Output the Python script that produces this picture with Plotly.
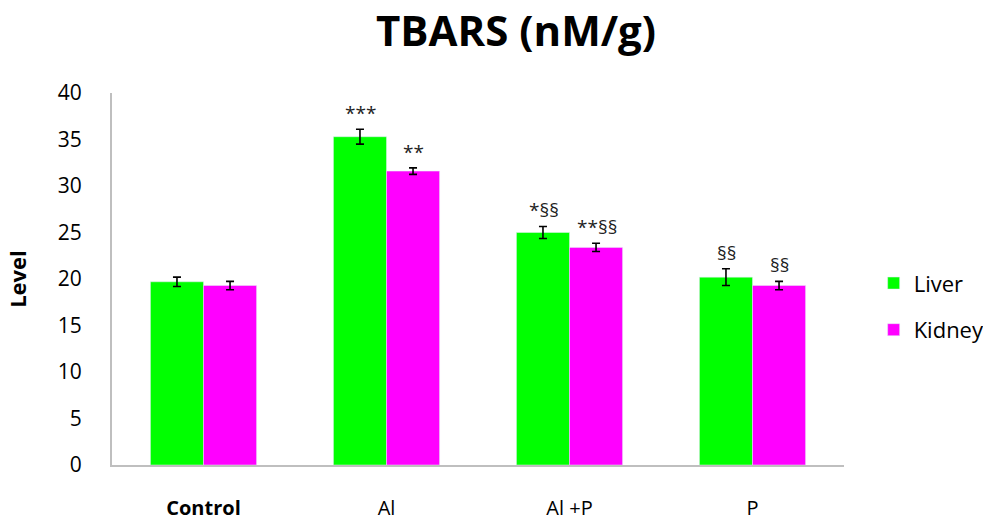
import plotly.graph_objects as go

categories = ["Control", "Al", "Al +P", "P"]
tick_labels = ["<b>Control</b>", "Al", "Al +P", "P"]
liver = [19.7, 35.3, 25.0, 20.2]
liver_err = [0.5, 0.8, 0.65, 0.9]
kidney = [19.3, 31.6, 23.4, 19.3]
kidney_err = [0.45, 0.35, 0.45, 0.45]
liver_marks = ["", "***", "*§§", "§§"]
kidney_marks = ["", "**", "**§§", "§§"]

FONT = "'Open Sans', Lato, sans-serif"

fig = go.Figure()
fig.add_trace(go.Bar(
    name="Liver", x=categories, y=liver, marker_color="#00FF00",
    legendgroup="a",
    error_y=dict(type="data", array=liver_err, color="black", thickness=1.6, width=4),
))
fig.add_trace(go.Bar(
    name="Kidney", x=categories, y=kidney, marker_color="#FF00FF",
    legendgroup="b",
    error_y=dict(type="data", array=kidney_err, color="black", thickness=1.6, width=4),
))

for i, c in enumerate(categories):
    if liver_marks[i]:
        fig.add_annotation(x=c, y=liver[i] + liver_err[i], text=liver_marks[i],
                           xshift=-26, yshift=1, yanchor="bottom", showarrow=False,
                           font=dict(size=19, color="#222", family=FONT))
    if kidney_marks[i]:
        fig.add_annotation(x=c, y=kidney[i] + kidney_err[i], text=kidney_marks[i],
                           xshift=27, yshift=1, yanchor="bottom", showarrow=False,
                           font=dict(size=19, color="#222", family=FONT))

fig.update_layout(
    width=983, height=521,
    margin=dict(l=112, r=139, t=93, b=56, autoexpand=False),
    paper_bgcolor="white", plot_bgcolor="white",
    barmode="group", bargap=0.42, bargroupgap=0,
    font=dict(family=FONT, color="black"),
    title=dict(text="<b>TBARS (nM/g)</b>", x=0.525, xanchor="center", y=0.9395, yanchor="middle",
               font=dict(size=42, family=FONT, color="black")),
    legend=dict(x=1.0405, y=0.545, xanchor="left", yanchor="top", traceorder="grouped",
                tracegroupgap=15, font=dict(size=22, family=FONT), itemwidth=30),
    xaxis=dict(tickvals=categories, ticktext=tick_labels, showline=True, linecolor="#BFBFBF",
               linewidth=2, ticks="", tickfont=dict(size=20, family=FONT),
               ticklabelstandoff=24, automargin=False),
    yaxis=dict(range=[0, 40], dtick=5, showline=True, linecolor="#BFBFBF", linewidth=2,
               showgrid=False, zeroline=False, ticks="", tickfont=dict(size=21, family=FONT),
               ticklabelstandoff=24, automargin=False,
               title=dict(text="<b>Level</b>", font=dict(size=22, family=FONT), standoff=25)),
)

fig.write_html("out.html", config={"displayModeBar": False},
               post_script="document.body.style.margin='0';")
